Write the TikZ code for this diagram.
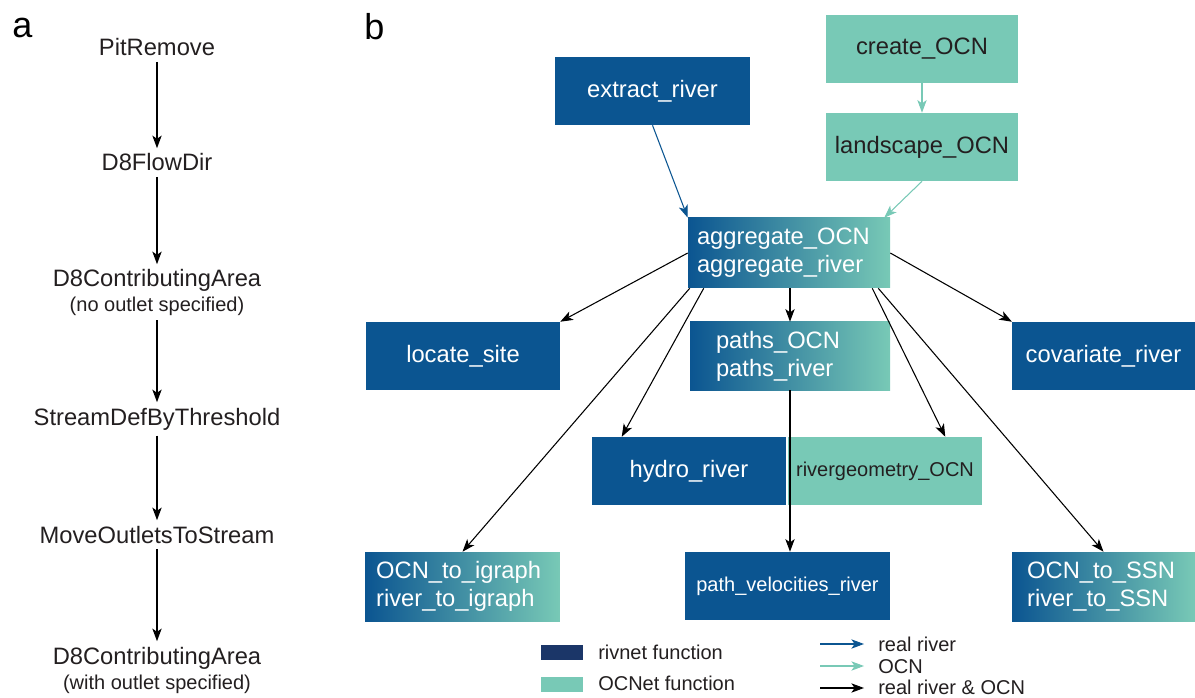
\documentclass[tikz,border=0pt]{standalone}
\usepackage{fontspec}
\setmainfont{Liberation Sans}
\usetikzlibrary{arrows.meta}
\definecolor{rvblue}{HTML}{0B5591}
\definecolor{ocnteal}{HTML}{78C9B6}
\definecolor{rvnavy}{HTML}{1B3668}
\definecolor{txtdark}{HTML}{231F20}
\tikzset{
  fn/.style={font=\fontsize{17.8}{21}\selectfont, inner sep=0pt, minimum height=51pt},
  rivbox/.style={fn, fill=rvblue, text=white},
  ocnbox/.style={fn, fill=ocnteal, text=txtdark},
  mixbox/.style={fn, left color=rvblue, right color=ocnteal, text=white, align=left},
  tool/.style={font=\fontsize{17.8}{21}\selectfont, text=txtdark, inner sep=4pt, anchor=base},
  note/.style={font=\fontsize{15}{18}\selectfont, text=txtdark, inner sep=3pt},
  arr/.style={-{Stealth[length=9.5pt,width=7pt,inset=2.5pt]}, line width=0.8pt},
}
\begin{document}
\begin{tikzpicture}[x=0.75pt, y=-0.75pt]
      \useasboundingbox (0,0) rectangle (1195,698);
      %
      \node[anchor=base west, inner sep=0pt, font=\fontsize{27}{30}\selectfont] (lbla) at (12,38) {a};
      \node[anchor=base west, inner sep=0pt, font=\fontsize{27}{30}\selectfont] (lblb) at (364,40) {b};
      %
      % panel a
      \node[tool] (pit) at (157,56) {PitRemove};
      \node[tool] (flow) at (157,171) {D8FlowDir};
      \node[tool] (area) at (157,287) {D8ContributingArea};
      \node[note, anchor=base] (areanote) at (157,312) {(no outlet specified)};
      \node[tool] (thresh) at (157,425) {StreamDefByThreshold};
      \node[tool] (move) at (157,543) {MoveOutletsToStream};
      \node[tool] (area2) at (157,664) {D8ContributingArea};
      \node[note, anchor=base] (area2note) at (157,689) {(with outlet specified)};
      %
      \draw[arr, line width=1pt] (pit) -- (flow);
      \draw[arr, line width=1pt] (flow) -- (area);
      \draw[arr, line width=1pt] (areanote) -- (thresh);
      \draw[arr, line width=1pt] (thresh) -- (move);
      \draw[arr, line width=1pt] (move) -- (area2);
      %
      % panel b
      \node[ocnbox, minimum width=144pt] (create) at (922,49) {create\_OCN};
      \node[ocnbox, minimum width=144pt] (landscape) at (922,147) {landscape\_OCN};
      \node[rivbox, minimum width=146pt] (extract) at (652.5,91) {extract\_river};
      \node[mixbox, minimum height=52.5pt, inner xsep=6.75pt, text width=138pt] (agg) at (789,253)
        {aggregate\_OCN\\aggregate\_river};
      \node[rivbox, minimum width=145.5pt] (locate) at (463,356) {locate\_site};
      \node[mixbox, inner xsep=19.5pt, text width=111pt] (paths) at (790,356)
        {paths\_OCN\\paths\_river};
      \node[rivbox, minimum width=137pt] (covar) at (1103.5,356) {covariate\_river};
      \node[rivbox, minimum width=145.5pt] (hydro) at (689,471) {hydro\_river};
      \node[ocnbox, minimum width=145.5pt, font=\fontsize{15}{18}\selectfont] (rgeom) at (885,471) {rivergeometry\_OCN};
      \node[mixbox, minimum height=51.75pt, inner xsep=8.25pt, text width=129.5pt] (igraph) at (462.5,586.5)
        {OCN\_to\_igraph\\river\_to\_igraph};
      \node[rivbox, minimum width=154pt, font=\fontsize{15}{18}\selectfont] (pathvel) at (787.5,586) {path\_velocities\_river};
      \node[mixbox, minimum height=51.75pt, inner xsep=11.25pt, text width=114.5pt] (ssn) at (1103.5,586.5)
        {OCN\_to\_SSN\\river\_to\_SSN};
      %
      \draw[arr, ocnteal] (create) -- (landscape);
      \draw[arr, rvblue] (extract.south) -- (agg.north west);
      \draw[arr, ocnteal] (landscape.south) -- ([xshift=-4.5pt]agg.north east);
      \draw[arr] (agg.west) -- (locate.north east);
      \draw[arr] ([xshift=1.5pt]agg.south west) -- (igraph.north);
      \draw[arr] ([xshift=12pt]agg.south west) -- ([xshift=22.5pt]hydro.north west);
      \draw[arr] (paths.north |- agg.south) -- (paths.north);
      \draw[arr] ([xshift=-13.5pt]agg.south east) -- ([xshift=-27.75pt]rgeom.north east);
      \draw[arr] ([xshift=-9pt]agg.south east) -- (ssn.north);
      \draw[arr] (agg.east) -- (covar.north west);
      \draw[arr] (paths.south) -- (paths.south |- pathvel.north);
      %
      % legend
      \node[fill=rvnavy, minimum width=31.5pt, minimum height=11.25pt, inner sep=0pt] (keyriv) at (562,652.5) {};
      \node[fill=ocnteal, minimum width=31.5pt, minimum height=11.25pt, inner sep=0pt] (keyocn) at (562,684.5) {};
      \node[note, anchor=base west, inner sep=0pt] (keyrivtxt) at (598,659) {rivnet function};
      \node[note, anchor=base west, inner sep=0pt] (keyocntxt) at (598,690) {OCNet function};
      %
      \coordinate (k1a) at (820,644);
      \coordinate (k1b) at (864,644);
      \coordinate (k2a) at (820,666);
      \coordinate (k2b) at (864,666);
      \coordinate (k3a) at (820,688);
      \coordinate (k3b) at (864,688);
      \draw[arr, rvblue] (k1a) -- (k1b);
      \draw[arr, ocnteal] (k2a) -- (k2b);
      \draw[arr] (k3a) -- (k3b);
      \node[note, anchor=base west, inner sep=0pt] (k1txt) at (878,651) {real river};
      \node[note, anchor=base west, inner sep=0pt] (k2txt) at (878,673) {OCN};
      \node[note, anchor=base west, inner sep=0pt] (k3txt) at (878,694) {real river \& OCN};
      %
    \end{tikzpicture}
\end{document}
